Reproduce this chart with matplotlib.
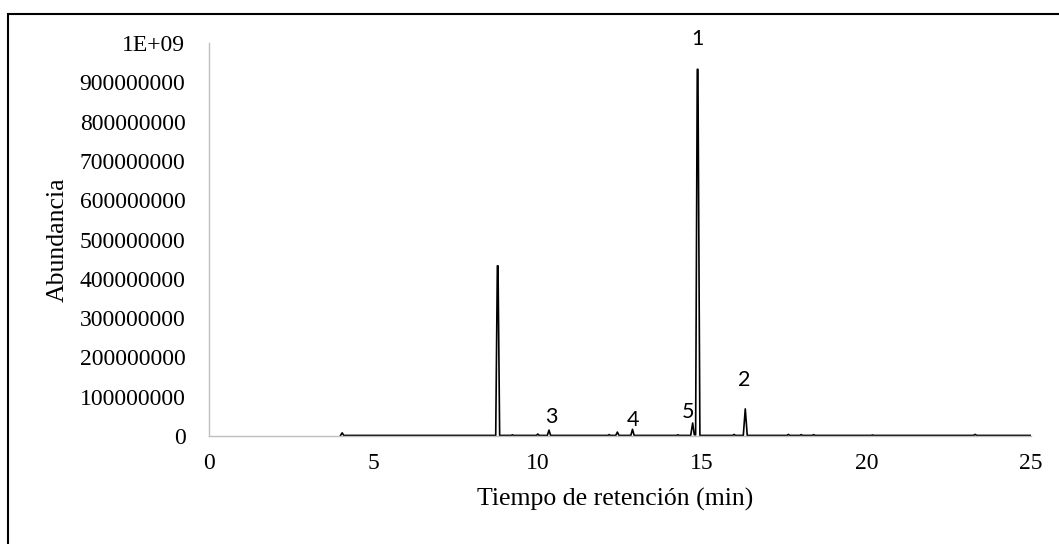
import matplotlib
matplotlib.use("Agg")
import matplotlib.pyplot as plt
from matplotlib.patches import Rectangle

# chromatogram trace (min, abundance)
times = [4.00, 4.05, 4.10, 8.72, 8.77, 8.79, 8.84, 9.19, 9.23, 9.27, 9.96, 10.00, 10.04,
         10.29, 10.34, 10.39, 12.13, 12.17, 12.21, 12.37, 12.42, 12.47, 12.83, 12.88,
         12.93, 14.22, 14.26, 14.30, 14.65, 14.71, 14.76, 14.80, 14.85, 14.87, 14.93, 15.93,
         15.97, 16.01, 16.25, 16.31, 16.37, 17.58, 17.62, 17.66, 17.97, 18.01, 18.05,
         18.35, 18.39, 18.43, 20.14, 20.18, 20.22, 23.25, 23.30, 23.35, 25.00]
abundance = [1.5e6, 8.0e6, 1.5e6, 1.5e6, 433e6, 433e6, 1.5e6, 1.5e6, 3.0e6, 1.5e6, 1.5e6, 5.0e6, 1.5e6,
             1.5e6, 15e6, 1.5e6, 1.5e6, 3.5e6, 1.5e6, 1.5e6, 10e6, 1.5e6, 1.5e6, 17e6,
             1.5e6, 1.5e6, 3.0e6, 1.5e6, 1.5e6, 33e6, 3.0e6, 3.0e6, 933e6, 933e6, 1.5e6, 1.5e6,
             4.0e6, 1.5e6, 1.5e6, 69e6, 1.5e6, 1.5e6, 4.0e6, 1.5e6, 1.5e6, 3.5e6, 1.5e6,
             1.5e6, 3.5e6, 1.5e6, 1.5e6, 2.5e6, 1.5e6, 1.5e6, 4.0e6, 1.5e6, 1.5e6]

# peak labels
peak_names = ["1", "2", "3", "4", "5"]
peak_x = [14.87, 16.28, 10.40, 12.90, 14.57]
peak_y = [1010e6, 142e6, 48e6, 41e6, 61e6]

yticks = [0, 1e8, 2e8, 3e8, 4e8, 5e8, 6e8, 7e8, 8e8, 9e8, 1e9]
ytick_labels = ["0", "100000000", "200000000", "300000000", "400000000", "500000000",
                "600000000", "700000000", "800000000", "900000000", "1E+09"]
xticks = [0, 5, 10, 15, 20, 25]

serif = ["Liberation Serif", "DejaVu Serif"]

fig = plt.figure(figsize=(10.59, 5.44), dpi=100)
ax = fig.add_axes([209 / 1059, 1 - 436 / 544, 822 / 1059, 393 / 544])

ax.plot(times, abundance, color="black", lw=1.2)

for name, x, y in zip(peak_names, peak_x, peak_y):
    ax.text(x, y, name, ha="center", va="center", fontsize=15.5,
            family=["Lato", "DejaVu Sans"], clip_on=False)

ax.set_xlim(0, 25)
ax.set_ylim(0, 1e9)
ax.set_xticks(xticks)
ax.set_xticklabels([str(t) for t in xticks], family=serif, fontsize=17)
ax.set_yticks(yticks)
ax.set_yticklabels(ytick_labels, family=serif, fontsize=17)
ax.tick_params(axis="both", length=0)
ax.tick_params(axis="y", pad=17)
ax.tick_params(axis="x", pad=12)

for side in ["top", "right"]:
    ax.spines[side].set_visible(False)
for side in ["left", "bottom"]:
    ax.spines[side].set_color("#bfbfbf")
    ax.spines[side].set_linewidth(1.0)

ax.set_xlabel("Tiempo de retención (min)", family=serif, fontsize=18.5)
ax.set_ylabel("Abundancia", family=serif, fontsize=18.5)
ax.xaxis.set_label_coords((615 - 209) / 822, (436 - 499) / 393)
ax.xaxis.label.set_va("center")
ax.yaxis.set_label_coords((58 - 209) / 822, 0.5)
ax.yaxis.label.set_va("center")

# outer frame of the chart area
fig.add_artist(Rectangle((8 / 1059, -0.2), 1.2, 1.2 - 13.7 / 544,
                         transform=fig.transFigure, fill=False,
                         edgecolor="black", lw=1.5))

fig.savefig("out.png", dpi=100)
